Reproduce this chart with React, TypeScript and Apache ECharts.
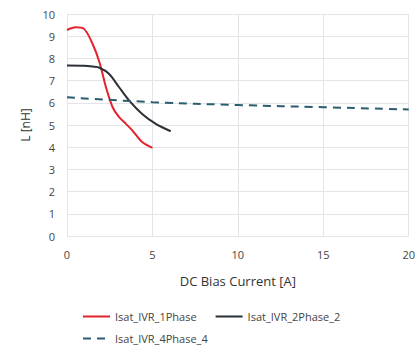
import React, { useEffect, useRef } from "react";
import * as echarts from "echarts";

const seriesNames = ["Isat_IVR_1Phase", "Isat_IVR_2Phase_2", "Isat_IVR_4Phase_4"];
const phase1: [number, number][] = [
  [0, 9.28], [0.5, 9.4], [1.0, 9.33], [1.5, 8.65], [1.9, 7.83], [2.28, 6.7],
  [2.67, 5.8], [3.05, 5.35], [3.45, 5.05], [3.83, 4.75], [4.4, 4.23], [5.0, 3.97],
];
const phase2: [number, number][] = [
  [0, 7.68], [1.0, 7.67], [1.5, 7.63], [1.9, 7.58], [2.47, 7.3], [3.05, 6.7],
  [3.64, 6.1], [4.4, 5.5], [5.2, 5.05], [6.07, 4.72],
];
const phase4: [number, number][] = [
  [0, 6.25], [5, 6.03], [10, 5.9], [15, 5.8], [20, 5.7],
];
const colors = ["#e3232b", "#2b3036", "#2a5d6e"];

export default function App() {
  const ref = useRef<HTMLDivElement>(null);
  useEffect(() => {
    const chart = echarts.init(ref.current!, null, { renderer: "svg" });
    const font = "'Open Sans', sans-serif";
    const legendCommon = {
      orient: "horizontal" as const,
      itemWidth: 27,
      itemHeight: 10,
      itemGap: 18,
      itemStyle: { opacity: 0 },
      textStyle: { fontFamily: font, fontSize: 11, color: "#444" },
    };
    chart.setOption({
      animation: false,
      textStyle: { fontFamily: font },
      grid: { left: 67, right: 7, top: 14, bottom: 110 },
      legend: [
        { ...legendCommon, data: [seriesNames[0], seriesNames[1]], left: 77, top: 306 },
        { ...legendCommon, data: [seriesNames[2]], left: 77, top: 328 },
      ],
      xAxis: {
        type: "value", min: 0, max: 20, interval: 5,
        name: "DC Bias Current [A]", nameLocation: "middle", nameGap: 38,
        nameTextStyle: { fontSize: 13, color: "#333", fontFamily: font },
        axisLine: { show: false }, axisTick: { show: false },
        axisLabel: { fontSize: 11, color: "#444", margin: 13, fontFamily: font },
        splitLine: { show: true, lineStyle: { color: "#e2e4e8" } },
      },
      yAxis: {
        type: "value", min: 0, max: 10, interval: 1,
        name: "L [nH]", nameLocation: "middle", nameGap: 33,
        nameTextStyle: { fontSize: 12, color: "#333", fontFamily: font },
        axisLine: { show: true, lineStyle: { color: "#e2e4e8" } }, axisTick: { show: false },
        axisLabel: { fontSize: 11, color: "#444", margin: 12, fontFamily: font },
        splitLine: { show: true, lineStyle: { color: "#e2e4e8" } },
      },
      series: [
        { name: seriesNames[0], type: "line", data: phase1, smooth: 0.3, symbol: "none", color: colors[0], lineStyle: { width: 2, color: colors[0] } },
        { name: seriesNames[1], type: "line", data: phase2, smooth: 0.3, symbol: "none", color: colors[1], lineStyle: { width: 2, color: colors[1] } },
        { name: seriesNames[2], type: "line", data: phase4, smooth: true, symbol: "none", color: colors[2], lineStyle: { width: 2, color: colors[2], type: [8, 6] } },
      ],
    });
    return () => chart.dispose();
  }, []);
  return <div ref={ref} style={{ width: 418, height: 346, position: "absolute", left: 0, top: 0 }} />;
}
